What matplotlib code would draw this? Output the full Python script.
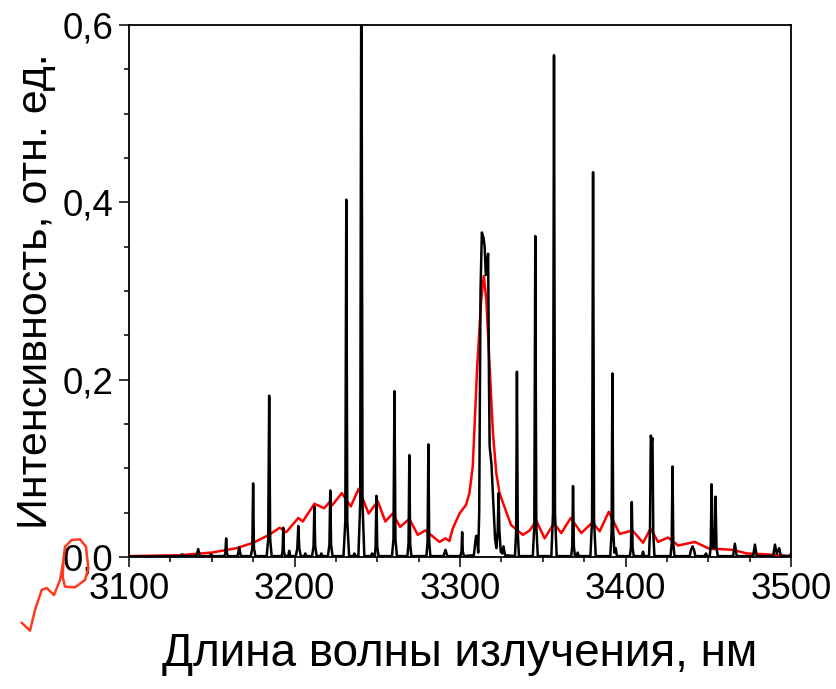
import numpy as np
import matplotlib
matplotlib.use("Agg")
import matplotlib.pyplot as plt
from matplotlib.ticker import MultipleLocator, FuncFormatter
from matplotlib.lines import Line2D

plt.rcParams['font.family'] = ['Liberation Sans', 'DejaVu Sans']

black_nm = [
    3100.0, 3130.0, 3131.2, 3132.1, 3133.0,
    3140.8, 3141.8, 3142.8, 3148.8, 3149.6, 3150.4,
    3157.6, 3158.2, 3158.7, 3159.2, 3159.8,
    3165.6, 3166.6, 3167.6,
    3173.6, 3174.5, 3175.0, 3175.5, 3176.4,
    3183.2, 3184.1, 3184.7, 3185.3, 3186.2,
    3192.2, 3192.8, 3193.2, 3193.6, 3194.3,
    3196.2, 3196.8, 3197.4,
    3200.8, 3201.7, 3202.3, 3202.9, 3203.8,
    3205.8, 3206.5, 3207.2,
    3210.6, 3211.5, 3212.0, 3212.5, 3213.4,
    3215.5, 3216.2, 3216.9,
    3220.2, 3221.1, 3221.6, 3222.1, 3223.0,
    3229.6, 3230.7, 3231.3, 3231.9, 3233.0,
    3235.5, 3236.2, 3236.9,
    3238.6, 3239.7, 3240.4, 3241.1, 3242.2,
    3246.0, 3247.0, 3248.0,
    3248.6, 3249.0, 3249.5, 3250.0, 3250.8,
    3258.9, 3259.8, 3260.4, 3261.0, 3261.9,
    3268.2, 3268.9, 3269.4, 3269.9, 3270.6,
    3279.7, 3280.4, 3280.9, 3281.4, 3282.1,
    3290.0, 3291.2, 3292.4,
    3300.2, 3300.9, 3301.3, 3301.7, 3302.4,
    3308.4, 3309.3, 3309.8, 3310.3, 3311.0, 3311.6, 3312.4, 3313.2,
    3314.2, 3314.9, 3315.6, 3316.3, 3317.0, 3317.5, 3317.9, 3319.0,
    3320.2, 3321.2, 3322.0, 3322.8, 3323.3, 3323.8, 3324.6, 3325.5,
    3326.3, 3327.2,
    3333.2, 3333.9, 3334.4, 3334.9, 3335.6,
    3344.0, 3344.9, 3345.5, 3346.1, 3347.0,
    3355.2, 3356.2, 3356.8, 3357.4, 3358.4,
    3367.2, 3367.8, 3368.3, 3368.8, 3369.5,
    3370.4, 3371.1, 3371.8,
    3378.8, 3379.8, 3380.4, 3381.0, 3382.0,
    3390.8, 3391.6, 3392.1, 3392.6, 3393.3, 3394.1, 3394.8,
    3402.6, 3403.3, 3403.8, 3404.3, 3405.0,
    3409.9, 3410.6, 3411.3,
    3414.2, 3414.8, 3415.3, 3415.8, 3416.3, 3416.8, 3417.5,
    3427.2, 3427.9, 3428.4, 3428.9, 3429.6,
    3438.8, 3439.6, 3440.5, 3441.4, 3442.2,
    3447.9, 3448.6, 3449.3,
    3450.9, 3451.5, 3452.0, 3452.8, 3453.5, 3454.0, 3454.4, 3455.0, 3455.8,
    3465.0, 3466.1, 3467.2,
    3477.1, 3478.2, 3479.3,
    3489.2, 3490.3, 3491.4, 3492.9, 3493.9,
    3499.3, 3500.0,
]
black_int = [
    0.0005, 0.0008, 0.001, 0.003, 0.001,
    0.001, 0.009, 0.001, 0.001, 0.003, 0.001,
    0.001, 0.004, 0.021, 0.004, 0.001,
    0.001, 0.011, 0.001,
    0.001, 0.010, 0.083, 0.010, 0.001,
    0.001, 0.020, 0.182, 0.020, 0.001,
    0.001, 0.006, 0.033, 0.006, 0.001,
    0.001, 0.007, 0.001,
    0.001, 0.010, 0.035, 0.010, 0.001,
    0.001, 0.004, 0.001,
    0.001, 0.012, 0.057, 0.012, 0.001,
    0.001, 0.004, 0.001,
    0.001, 0.014, 0.075, 0.014, 0.001,
    0.001, 0.040, 0.403, 0.040, 0.001,
    0.001, 0.004, 0.001,
    0.001, 0.060, 0.720, 0.060, 0.001,
    0.001, 0.004, 0.001,
    0.001, 0.012, 0.069, 0.012, 0.001,
    0.001, 0.020, 0.187, 0.020, 0.001,
    0.001, 0.015, 0.115, 0.015, 0.001,
    0.001, 0.017, 0.127, 0.017, 0.001,
    0.001, 0.008, 0.001,
    0.001, 0.006, 0.028, 0.006, 0.001,
    0.002, 0.018, 0.024, 0.022, 0.005, 0.050, 0.300, 0.366,
    0.360, 0.350, 0.318, 0.330, 0.342, 0.200, 0.125, 0.105,
    0.060, 0.020, 0.010, 0.030, 0.072, 0.030, 0.006, 0.004,
    0.012, 0.002,
    0.001, 0.028, 0.209, 0.028, 0.001,
    0.001, 0.036, 0.362, 0.036, 0.001,
    0.001, 0.050, 0.566, 0.050, 0.001,
    0.001, 0.012, 0.080, 0.012, 0.001,
    0.001, 0.005, 0.001,
    0.001, 0.042, 0.434, 0.042, 0.001,
    0.001, 0.028, 0.207, 0.028, 0.005, 0.010, 0.001,
    0.001, 0.010, 0.062, 0.010, 0.001,
    0.001, 0.006, 0.001,
    0.001, 0.030, 0.137, 0.130, 0.134, 0.025, 0.001,
    0.001, 0.015, 0.102, 0.015, 0.001,
    0.001, 0.008, 0.012, 0.008, 0.001,
    0.001, 0.004, 0.001,
    0.001, 0.012, 0.082, 0.010, 0.010, 0.015, 0.068, 0.010, 0.001,
    0.001, 0.015, 0.001,
    0.001, 0.014, 0.001,
    0.001, 0.014, 0.004, 0.010, 0.001,
    0.001, 0.004,
]

# broadened (red) spectrum
red_nm = [
    3100.0, 3130.0, 3150.0, 3165.0, 3175.0, 3184.7, 3191.0, 3195.0,
    3202.3, 3205.0, 3212.0, 3218.0, 3221.6, 3222.6, 3228.6, 3234.0,
    3238.8, 3244.8, 3250.3, 3254.9, 3259.3, 3263.8, 3269.4, 3274.5,
    3279.1, 3287.6, 3291.2, 3293.6, 3295.6, 3299.7, 3303.7, 3305.7,
    3307.7, 3310.4, 3312.8, 3314.4, 3315.9, 3317.9, 3319.9, 3321.9,
    3323.9, 3327.9, 3330.9, 3338.0, 3342.1, 3346.1, 3351.1, 3356.8,
    3361.2, 3366.9, 3373.3, 3380.0, 3384.4, 3389.9, 3396.5, 3404.2,
    3410.6, 3415.1, 3419.7, 3425.7, 3431.8, 3441.9, 3451.0, 3457.0,
    3465.1, 3473.2, 3485.3, 3500.0,
]
red_int = [
    0.001, 0.002, 0.005, 0.010, 0.016, 0.025, 0.033, 0.028,
    0.044, 0.040, 0.060, 0.055, 0.063, 0.058, 0.072, 0.057,
    0.077, 0.049, 0.063, 0.040, 0.049, 0.034, 0.043, 0.025,
    0.030, 0.017, 0.021, 0.018, 0.032, 0.049, 0.059, 0.072,
    0.102, 0.215, 0.290, 0.317, 0.290, 0.215, 0.140, 0.095,
    0.072, 0.051, 0.036, 0.025, 0.030, 0.041, 0.021, 0.038,
    0.027, 0.044, 0.027, 0.039, 0.029, 0.051, 0.026, 0.030,
    0.016, 0.032, 0.017, 0.022, 0.013, 0.017, 0.009, 0.009,
    0.008, 0.004, 0.003, 0.001,
]

# hand-drawn red mark near the origin (figure pixels)
mark_px = [21.7, 30.0, 35.0, 41.7, 46.7, 54.0, 60.0, 62.7, 65.0, 71.7,
           80.0, 86.0, 88.3, 85.0, 75.0, 65.0, 62.7, 63.3]
mark_py = [622.7, 630.7, 610.0, 590.0, 588.0, 595.0, 580.0, 565.0, 546.7, 540.0,
           539.3, 546.7, 568.3, 580.0, 587.3, 586.7, 576.7, 563.3]

W, H = 837, 689
fig = plt.figure(figsize=(W / 100, H / 100), dpi=100)
ax = fig.add_axes([129 / W, 1 - 557 / H, (791 - 129) / W, (557 - 25) / H])

ax.plot(red_nm, red_int, color='#ff0000', lw=1.8, zorder=2)
ax.plot(black_nm, black_int, color='black', lw=1.8, zorder=3)

ax.set_xlim(3100, 3500)
ax.set_ylim(0, 0.6)
ax.xaxis.set_major_locator(MultipleLocator(100))
ax.xaxis.set_minor_locator(MultipleLocator(25))
ax.yaxis.set_major_locator(MultipleLocator(0.2))
ax.yaxis.set_minor_locator(MultipleLocator(0.05))
ax.yaxis.set_major_formatter(FuncFormatter(lambda v, p: f"{v:.1f}".replace('.', ',')))
ax.tick_params(which='major', direction='out', length=7, width=1.1, labelsize=26.5, pad=4)
ax.tick_params(which='minor', direction='out', length=3.6, width=1.1)
for s in ax.spines.values():
    s.set_linewidth(1.3)

ax.set_xlabel("Длина волны излучения, нм", fontsize=33, labelpad=18)
ax.set_ylabel("Интенсивность, отн. ед.", fontsize=31, labelpad=5)

mark = Line2D(np.array(mark_px) / W, 1 - np.array(mark_py) / H, transform=fig.transFigure,
              color='#ff3b1f', lw=1.8, solid_capstyle='round')
fig.add_artist(mark)

fig.savefig("out.png", dpi=100)
